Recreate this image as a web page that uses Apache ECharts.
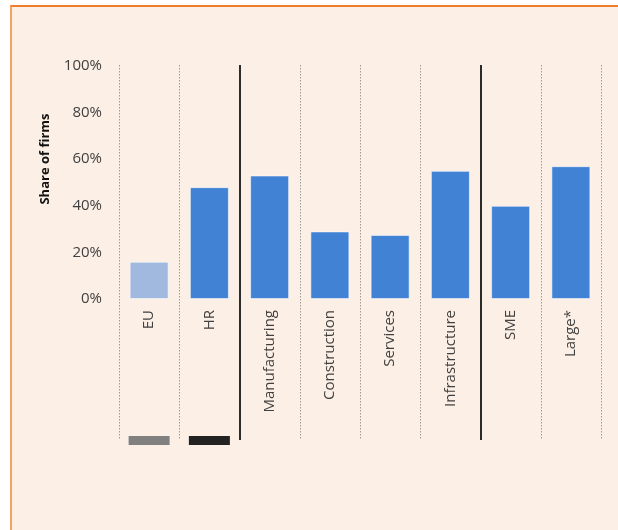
<!DOCTYPE html>
<html>
<head>
<meta charset="utf-8">
<script src="https://cdn.jsdelivr.net/npm/echarts@6/dist/echarts.min.js"></script>
<style>
  html, body { margin: 0; padding: 0; background: #ffffff; }
  #panel {
    position: absolute; left: 10px; top: 5px; width: 608px; height: 525px;
    background: #FCEFE6; border-top: 2px solid #F07D2E; border-left: 2px solid #F5A460;
    box-sizing: border-box;
  }
  #chart { position: absolute; left: 0; top: 0; width: 618px; height: 530px; }
</style>
</head>
<body>
<div id="panel"></div>
<div id="chart"></div>
<script>
// Category groups: benchmark, sectors, firm size
const benchmarkCats = ['EU', 'HR'];
const sectorCats = ['Manufacturing', 'Construction', 'Services', 'Infrastructure'];
const sizeCats = ['SME', 'Large*'];
const categories = benchmarkCats.concat(sectorCats, sizeCats);

// Share of firms, in percent
const shares = [16, 48, 53, 29, 27.5, 55, 40, 57];

const axisTitle = 'Share of firms';

// Boundaries between groups get a solid divider
const groupBreaks = [benchmarkCats.length, benchmarkCats.length + sectorCats.length];

const chart = echarts.init(document.getElementById('chart'), null, { renderer: 'canvas' });

const FONT = '"Open Sans", "Noto Sans", sans-serif';

chart.setOption({
  backgroundColor: 'transparent',
  animation: false,
  grid: [
    // bars
    { left: 119, right: 17, top: 66, bottom: 231, containLabel: false, outerBoundsMode: 'none' },
    // column dividers, running down through the label area
    { left: 119, right: 17, top: 65, bottom: 90, containLabel: false, outerBoundsMode: 'none' }
  ],
  xAxis: [
    {
      type: 'category',
      gridIndex: 0,
      data: categories,
      axisLine: { show: false },
      axisTick: { show: false },
      splitLine: { show: false },
      axisLabel: {
        rotate: 90, margin: 11, color: '#404040', fontSize: 15, fontFamily: FONT,
        interval: 0
      }
    },
    {
      type: 'value',
      gridIndex: 1,
      min: 0, max: categories.length, interval: 1,
      axisLine: { show: false }, axisTick: { show: false }, axisLabel: { show: false },
      splitLine: { show: true, lineStyle: { type: [1.5, 1.5], color: '#a09a96', width: 1 } }
    }
  ],
  yAxis: [
    {
      type: 'value',
      gridIndex: 0,
      min: 0, max: 100, interval: 20,
      axisLine: { show: false }, axisTick: { show: false }, splitLine: { show: false },
      axisLabel: {
        margin: 17, color: '#404040', fontSize: 15, fontFamily: FONT,
        formatter: '{value}%'
      }
    },
    {
      type: 'value',
      gridIndex: 1,
      min: 0, max: 1,
      show: false
    }
  ],
  series: [
    {
      type: 'bar',
      xAxisIndex: 0,
      yAxisIndex: 0,
      barWidth: 39,
      data: shares.map((v, i) => ({
        value: v,
        itemStyle: { color: i === 0 ? '#A1B9DF' : '#4182D4' }
      })),
      itemStyle: { borderColor: 'rgba(255,255,255,0.55)', borderWidth: 1 }
    },
    {
      type: 'line',
      xAxisIndex: 1,
      yAxisIndex: 1,
      data: [[0, null]],
      symbol: 'none',
      silent: true,
      markLine: {
        symbol: 'none',
        silent: true,
        label: { show: false },
        lineStyle: { type: 'solid', color: '#2a2a2a', width: 2 },
        data: groupBreaks.map(b => ({ xAxis: b }))
      }
    }
  ]
});

// Axis title and the two key swatches beneath the benchmark columns
const euX = chart.convertToPixel({ xAxisIndex: 0 }, 'EU');
const hrX = chart.convertToPixel({ xAxisIndex: 0 }, 'HR');
chart.setOption({
  graphic: [
    {
      type: 'text', x: 45, y: 159, rotation: Math.PI / 2,
      style: {
        text: axisTitle, fill: '#111', font: 'bold 13px ' + FONT,
        textAlign: 'center', textVerticalAlign: 'middle'
      }
    },
    { type: 'rect', shape: { x: euX - 20.5, y: 436, width: 41, height: 9 }, style: { fill: '#808080' } },
    { type: 'rect', shape: { x: hrX - 20.5, y: 436, width: 41, height: 9 }, style: { fill: '#222222' } }
  ]
});
</script>
</body>
</html>
